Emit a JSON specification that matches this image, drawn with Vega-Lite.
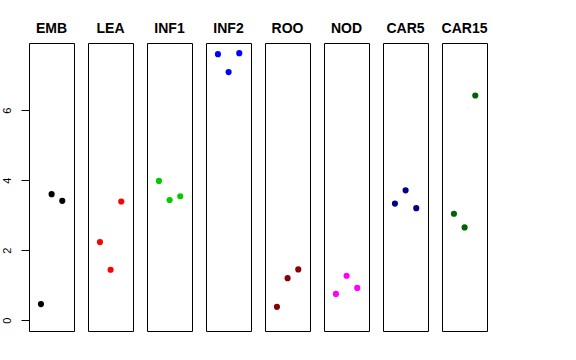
{
  "$schema": "https://vega.github.io/schema/vega-lite/v6.json",
  "padding": {"left": 1, "top": 22, "right": 0, "bottom": 0},
  "background": "white",
  "bounds": "flush",
  "data": {"values": [
    {"panel": "EMB", "x": 1, "y": 0.46},
    {"panel": "EMB", "x": 2, "y": 3.6},
    {"panel": "EMB", "x": 3, "y": 3.41},
    {"panel": "LEA", "x": 1, "y": 2.23},
    {"panel": "LEA", "x": 2, "y": 1.44},
    {"panel": "LEA", "x": 3, "y": 3.39},
    {"panel": "INF1", "x": 1, "y": 3.98},
    {"panel": "INF1", "x": 2, "y": 3.43},
    {"panel": "INF1", "x": 3, "y": 3.54},
    {"panel": "INF2", "x": 1, "y": 7.6},
    {"panel": "INF2", "x": 2, "y": 7.09},
    {"panel": "INF2", "x": 3, "y": 7.63},
    {"panel": "ROO", "x": 1, "y": 0.38},
    {"panel": "ROO", "x": 2, "y": 1.2},
    {"panel": "ROO", "x": 3, "y": 1.45},
    {"panel": "NOD", "x": 1, "y": 0.75},
    {"panel": "NOD", "x": 2, "y": 1.27},
    {"panel": "NOD", "x": 3, "y": 0.92},
    {"panel": "CAR5", "x": 1, "y": 3.33},
    {"panel": "CAR5", "x": 2, "y": 3.71},
    {"panel": "CAR5", "x": 3, "y": 3.2},
    {"panel": "CAR15", "x": 1, "y": 3.04},
    {"panel": "CAR15", "x": 2, "y": 2.65},
    {"panel": "CAR15", "x": 3, "y": 6.42}
  ]},
  "facet": {
    "column": {
      "field": "panel",
      "type": "nominal",
      "sort": ["EMB", "LEA", "INF1", "INF2", "ROO", "NOD", "CAR5", "CAR15"],
      "title": null,
      "header": {
        "labelFont": "Liberation Sans",
        "labelFontSize": 14,
        "labelFontWeight": "bold",
        "labelColor": "black",
        "labelPadding": -4,
        "labelBaseline": "alphabetic"
      }
    }
  },
  "spacing": 14,
  "spec": {
    "width": 45,
    "height": 288,
    "mark": {"type": "circle", "size": 38, "opacity": 1},
    "encoding": {
      "x": {"field": "x", "type": "quantitative", "scale": {"domain": [-0.12, 4.1], "nice": false, "zero": false}, "axis": null},
      "y": {"field": "y", "type": "quantitative", "scale": {"domain": [-0.31, 7.92], "nice": false, "zero": false},
        "axis": {"title": null, "values": [0, 2, 4, 6], "grid": false, "domain": false, "tickSize": 8, "tickColor": "black",
          "labelAngle": -90, "labelFont": "Liberation Sans", "labelFontSize": 11, "labelColor": "black", "labelPadding": 9,
          "minExtent": 24, "maxExtent": 24}},
      "color": {"field": "panel", "type": "nominal",
        "scale": {"domain": ["EMB", "LEA", "INF1", "INF2", "ROO", "NOD", "CAR5", "CAR15"],
          "range": ["#000000", "#FF0000", "#00CD00", "#0000FF", "#8B0000", "#FF00FF", "#00008B", "#006400"]},
        "legend": null}
    }
  },
  "config": {
    "view": {"stroke": "black", "strokeWidth": 1}
  }
}
